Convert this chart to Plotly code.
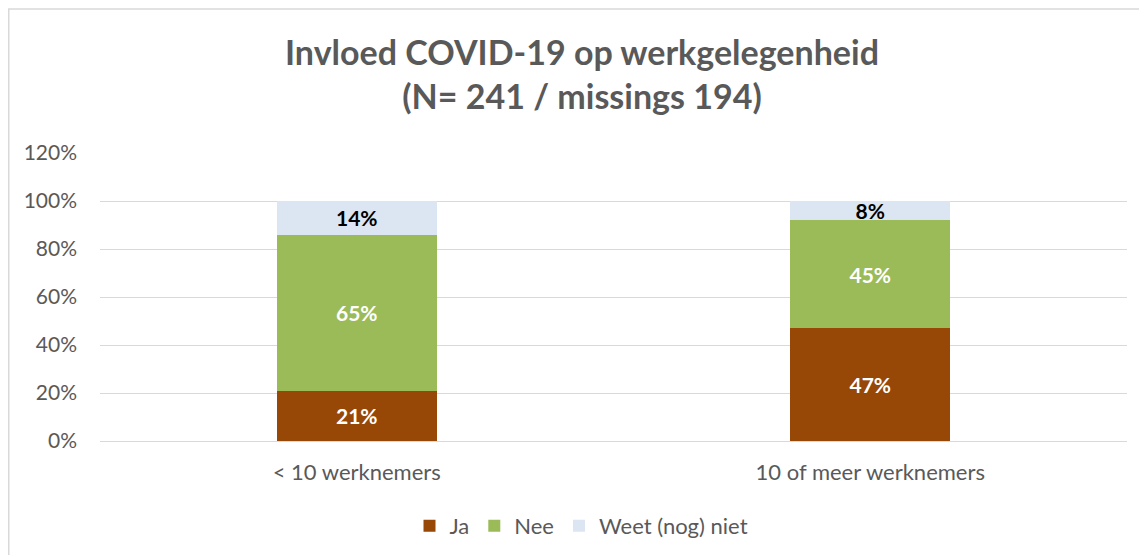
import plotly.graph_objects as go

categories = ["< 10 werknemers", "10 of meer werknemers"]
series_names = ["Ja", "Nee", "Weet (nog) niet"]
ja = [0.21, 0.47]
nee = [0.65, 0.45]
weet = [0.14, 0.08]
tick_vals = [0, 0.2, 0.4, 0.6, 0.8, 1.0, 1.2]
tick_text = ["0%", "20%", "40%", "60%", "80%", "100%", "120%"]

colors = ["#974706", "#9BBB59", "#DCE6F2"]
label_colors = ["white", "white", "black"]
FONT = "Lato"
GREY = "#595959"

fig = go.Figure()
for name, vals, col, lc in zip(series_names, [ja, nee, weet], colors, label_colors):
    fig.add_trace(go.Bar(
        x=categories, y=vals, name=name,
        marker=dict(color=col, line=dict(width=0)),
        texttemplate="%{y:.0%}", textposition="inside", insidetextanchor="middle",
        textfont=dict(family=FONT, size=21, color=lc, weight="bold"),
        textangle=0,
    ))

W, H = 1147, 555
L, R, T, B = 92, 28, 145, 122
pw, ph = W - L - R, H - T - B

fig.update_layout(
    width=W, height=H,
    barmode="stack", bargap=0.688,
    margin=dict(l=L, r=R, t=T, b=B, autoexpand=False),
    paper_bgcolor="white", plot_bgcolor="white",
    font=dict(family=FONT, color=GREY, size=21),
    uniformtext=dict(minsize=21, mode="show"),
    title=dict(
        text="Invloed COVID-19 op werkgelegenheid<br>(N= 241 / missings 194)",
        x=(574 - L) / pw, xref="paper", xanchor="center",
        y=1 - 57 / H, yref="container", yanchor="middle",
        font=dict(family=FONT, size=34, color=GREY, weight="bold"),
    ),
    showlegend=True,
    legend=dict(orientation="h", x=481.5 / pw, xanchor="center",
                y=1 - 518 / H, yref="container", yanchor="middle",
                font=dict(family=FONT, size=22, color=GREY),
                traceorder="normal", itemwidth=30),
    yaxis=dict(range=[0, 1.2], tickvals=tick_vals, ticktext=tick_text,
               showgrid=True, gridcolor="#D9D9D9", gridwidth=1,
               zeroline=True, zerolinecolor="#D9D9D9", zerolinewidth=1,
               showline=False, ticklabelstandoff=22, automargin=False,
               tickfont=dict(family=FONT, size=21, color=GREY)),
    xaxis=dict(showline=False, showgrid=False, ticklabelstandoff=16, automargin=False,
               tickfont=dict(family=FONT, size=22, color=GREY)),
    shapes=[dict(type="rect", xref="paper", yref="paper",
                 x0=(0.75 - L) / pw, x1=(1180 - L) / pw,
                 y0=(T + ph - 600) / ph,
                 y1=(T + ph - 1) / ph,
                 line=dict(color="#D9D9D9", width=1.5), layer="below")],
)

fig.write_html("out.html")
